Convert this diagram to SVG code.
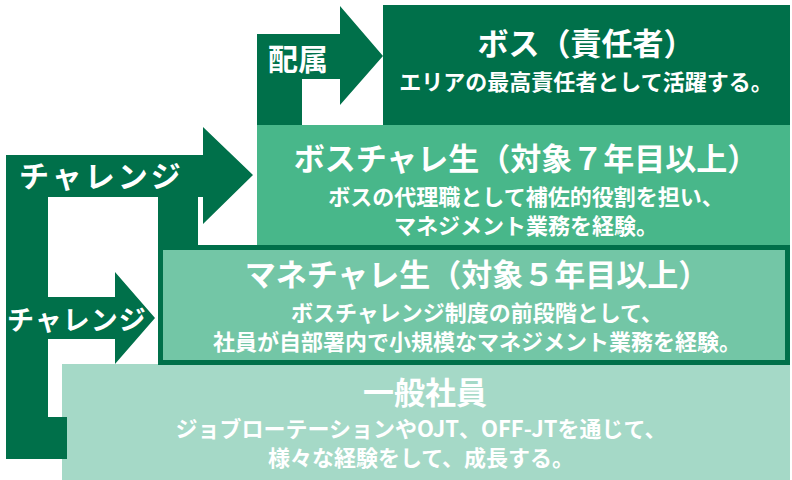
<svg xmlns="http://www.w3.org/2000/svg" width="792" height="480" viewBox="0 0 792 480">
<style>
text{font-family:"Noto Sans CJK JP","Noto Sans",sans-serif;font-weight:bold;fill:#fff;text-anchor:middle}
.t{font-size:31px}.s{font-size:22px}.a{font-size:30px;text-anchor:start}
.dk{fill:#00704a}
</style>
<rect width="792" height="480" fill="#fff"/>
<g id="general"><rect x="62" y="364" width="728" height="116" fill="#a5d9c7"/>
<text class="t" x="425" y="404">一般社員</text>
<text class="s" x="421" y="437">ジョブローテーションやOJT、OFF-JTを通じて、</text>
<text class="s" x="421" y="466">様々な経験をして、成長する。</text></g>
<g id="manechare"><rect x="160.5" y="247.5" width="627" height="115" fill="#73c6a6" stroke="#00704a" stroke-width="5"/>
<text class="t" x="477" y="286">マネチャレ生（対象５年目以上）</text>
<text class="s" x="477" y="321">ボスチャレンジ制度の前段階として、</text>
<text class="s" x="477" y="350">社員が自部署内で小規模なマネジメント業務を経験。</text></g>
<g id="bosschare"><rect x="257" y="125" width="533" height="120" fill="#48b78a"/>
<text class="t" x="526" y="170">ボスチャレ生（対象７年目以上）</text>
<text class="s" x="526" y="205">ボスの代理職として補佐的役割を担い、</text>
<text class="s" x="526" y="234">マネジメント業務を経験。</text></g>
<g id="boss"><rect x="383" y="5" width="407" height="120" class="dk"/>
<text class="t" x="586" y="55">ボス（責任者）</text>
<text class="s" x="586" y="90">エリアの最高責任者として活躍する。</text></g>
<g id="connectors">
<path class="dk" d="M6,155 H203 V127 L253,175 L203,224 V197 H198 V245 H158 V197 H48 V297 H115 V272 L155,318 L115,364 V339 H48 V417 H67 V459 H6 Z"/>
<path class="dk" d="M257,34 H340 V6 L383,56 L340,105 V79 H302 V125 H257 Z"/>
<text class="a" x="268" y="70">配属</text>
<text class="a" x="19" y="187" style="letter-spacing:3px">チャレンジ</text>
<text class="a" x="7" y="330" style="font-size:27px;letter-spacing:1px">チャレンジ</text>
</g>
</svg>
